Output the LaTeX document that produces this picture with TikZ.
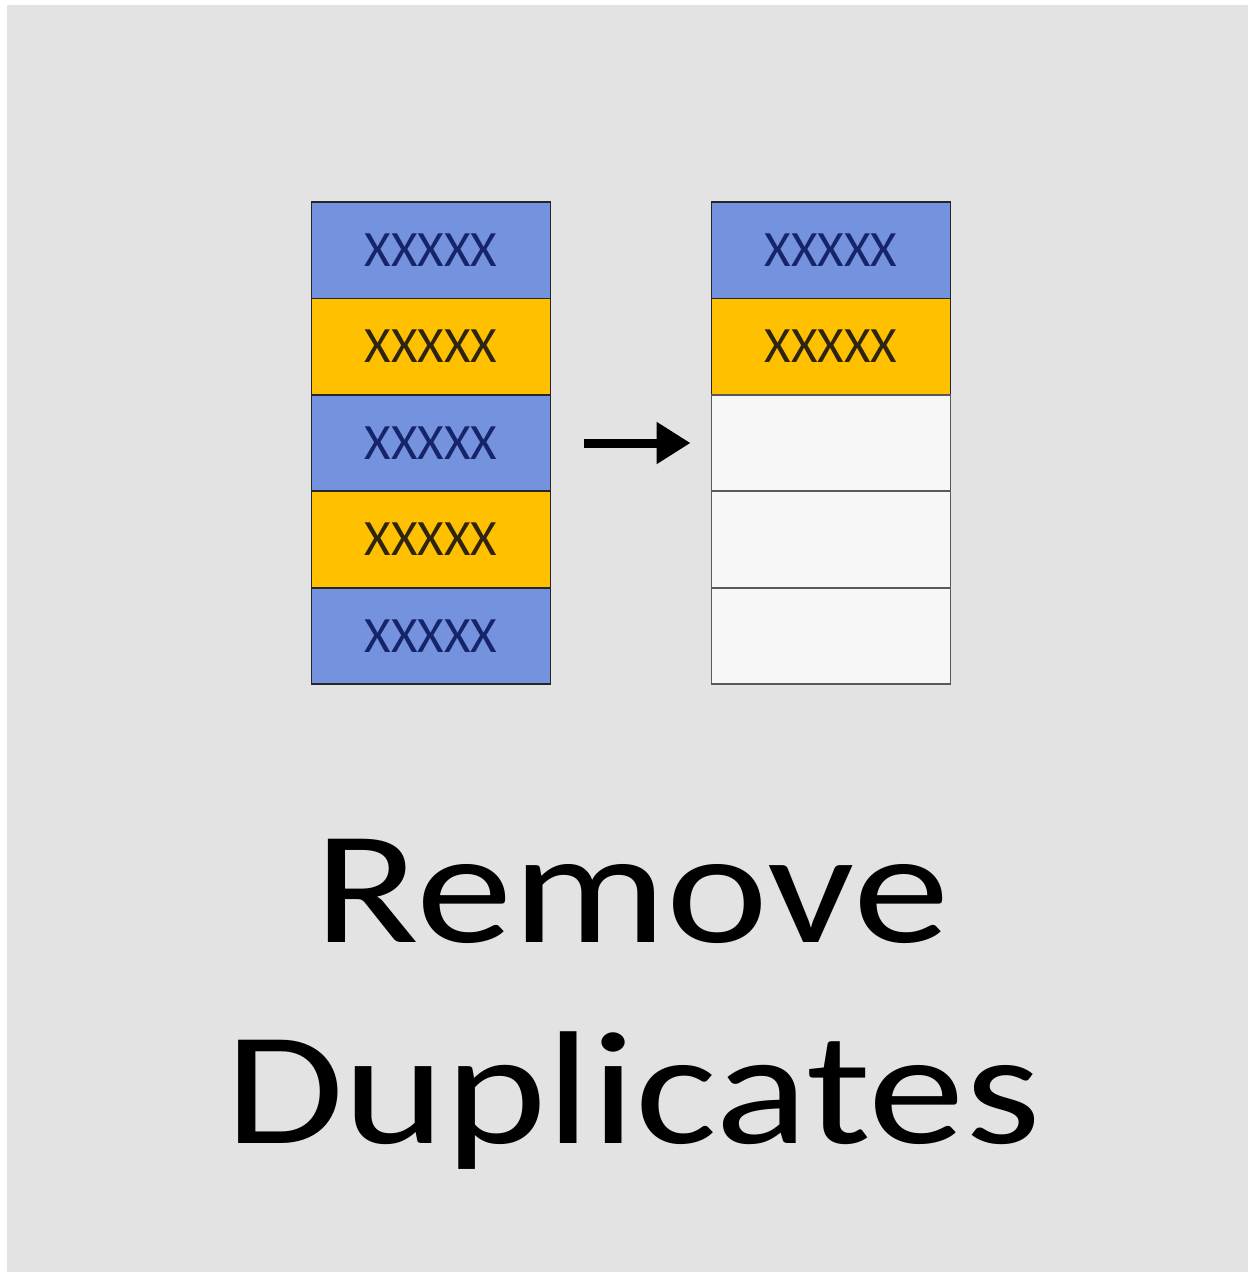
\documentclass[tikz,border=0pt]{standalone}
\usepackage{fontspec}
\setmainfont{Carlito}
\usetikzlibrary{arrows.meta}
\definecolor{bg}{HTML}{E3E3E3}
\definecolor{cellblue}{HTML}{7592DF}
\definecolor{cellyellow}{HTML}{FFC000}
\definecolor{cellwhite}{HTML}{F7F7F7}
\definecolor{txtblue}{HTML}{16246A}
\definecolor{txtyellow}{HTML}{2E2410}
\tikzset{
  cell/.style={draw=black!85, line width=1.8pt, minimum width=239pt, minimum height=96.4pt, inner sep=0pt, outer sep=0pt,
    font=\fontsize{51}{51}\selectfont},
  bluecell/.style={cell, fill=cellblue, text=txtblue},
  yellowcell/.style={cell, fill=cellyellow, text=txtyellow},
  emptycell/.style={cell, draw=black!65, fill=cellwhite},
  bigtext/.style={font=\fontsize{161}{161}\selectfont, xscale=1.2, anchor=base, inner sep=0pt, text=black},
  bigarrow/.style={line width=9pt, -{Triangle[length=34pt,width=40pt]}}
}
\begin{document}
\begin{tikzpicture}[x=1pt,y=-1pt]
\useasboundingbox (0,0) rectangle (1253,1277);
\fill[white] (0,0) rectangle (1253,1277);
\fill[bg] (7,5) rectangle (1248,1272);
% left column
\node[bluecell]   (L1) at (431,250.2) {XXXXX};
\node[yellowcell] (L2) at (431,346.6) {XXXXX};
\node[bluecell]   (L3) at (431,443.0) {XXXXX};
\node[yellowcell] (L4) at (431,539.4) {XXXXX};
\node[bluecell]   (L5) at (431,635.8) {XXXXX};
% right column
\node[bluecell]   (R1) at (831,250.2) {XXXXX};
\node[yellowcell] (R2) at (831,346.6) {XXXXX};
\node[emptycell]  (R3) at (831,443.0) {};
\node[emptycell]  (R4) at (831,539.4) {};
\node[emptycell]  (R5) at (831,635.8) {};
% arrow
\draw[bigarrow, shorten <=33pt, shorten >=21pt] (L3.east) -- (R3.west);
% title
\node[bigtext] (t1) at (632,942) {Remove};
\node[bigtext] (t2) at (633,1143) {Duplicates};
\end{tikzpicture}
\end{document}
